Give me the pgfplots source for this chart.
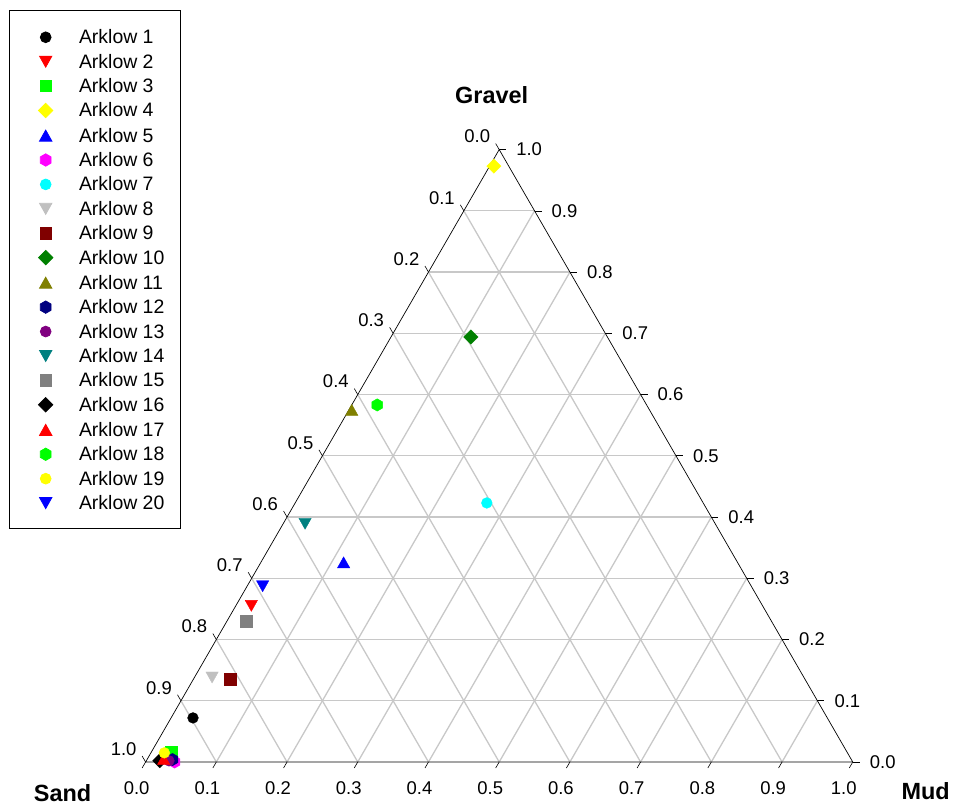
\documentclass[border=0pt]{standalone}
\usepackage{pgfplots}
\pgfplotsset{compat=1.18}
\usepackage{fontspec}
\setmainfont{Liberation Sans}
\definecolor{cBlack}{RGB}{0,0,0}
\definecolor{cRed}{RGB}{255,0,0}
\definecolor{cLime}{RGB}{0,255,0}
\definecolor{cYellow}{RGB}{255,255,0}
\definecolor{cBlue}{RGB}{0,0,255}
\definecolor{cMagenta}{RGB}{255,0,255}
\definecolor{cCyan}{RGB}{0,255,255}
\definecolor{cSilver}{RGB}{192,192,192}
\definecolor{cMaroon}{RGB}{128,0,0}
\definecolor{cDGreen}{RGB}{0,128,0}
\definecolor{cOlive}{RGB}{128,128,0}
\definecolor{cNavy}{RGB}{0,0,128}
\definecolor{cPurple}{RGB}{128,0,128}
\definecolor{cTeal}{RGB}{0,128,128}
\definecolor{cGray}{RGB}{128,128,128}
\definecolor{gridc}{RGB}{200,200,200}
\pgfdeclareplotmark{tup}{%
  \pgfpathmoveto{\pgfqpoint{0pt}{0.92\pgfplotmarksize}}%
  \pgfpathlineto{\pgfqpoint{1.03\pgfplotmarksize}{-0.92\pgfplotmarksize}}%
  \pgfpathlineto{\pgfqpoint{-1.03\pgfplotmarksize}{-0.92\pgfplotmarksize}}%
  \pgfpathclose\pgfusepathqfillstroke}
\pgfdeclareplotmark{tdown}{%
  \pgfpathmoveto{\pgfqpoint{0pt}{-0.92\pgfplotmarksize}}%
  \pgfpathlineto{\pgfqpoint{1.03\pgfplotmarksize}{0.92\pgfplotmarksize}}%
  \pgfpathlineto{\pgfqpoint{-1.03\pgfplotmarksize}{0.92\pgfplotmarksize}}%
  \pgfpathclose\pgfusepathqfillstroke}
\pgfdeclareplotmark{dia}{%
  \pgfpathmoveto{\pgfqpoint{0pt}{\pgfplotmarksize}}%
  \pgfpathlineto{\pgfqpoint{\pgfplotmarksize}{0pt}}%
  \pgfpathlineto{\pgfqpoint{0pt}{-\pgfplotmarksize}}%
  \pgfpathlineto{\pgfqpoint{-\pgfplotmarksize}{0pt}}%
  \pgfpathclose\pgfusepathqfillstroke}
\pgfdeclareplotmark{hex}{%
  \pgfpathmoveto{\pgfqpointpolar{90}{\pgfplotmarksize}}%
  \pgfpathlineto{\pgfqpointpolar{150}{\pgfplotmarksize}}%
  \pgfpathlineto{\pgfqpointpolar{210}{\pgfplotmarksize}}%
  \pgfpathlineto{\pgfqpointpolar{270}{\pgfplotmarksize}}%
  \pgfpathlineto{\pgfqpointpolar{330}{\pgfplotmarksize}}%
  \pgfpathlineto{\pgfqpointpolar{30}{\pgfplotmarksize}}%
  \pgfpathclose\pgfusepathqfillstroke}
\pgfplotsset{
  /pgfplots/table/tern/.style={row sep=\\,
    x expr={\thisrow{mud}+0.5*\thisrow{gravel}},
    y expr={0.8660254*\thisrow{gravel}}},
  pt/.style={only marks,
    legend image code/.code={\path (-20pt,0pt) (12pt,0pt);
      \draw[mark repeat=2,mark phase=2,##1] plot coordinates {(-1pt,-1pt) (0pt,-1pt) (1pt,-1pt)};}},
  mC/.style={pt, mark=*, mark size=5.4pt},
  mD/.style={pt, mark=tdown, mark size=6pt},
  mS/.style={pt, mark=square*, mark size=5.8pt},
  mK/.style={pt, mark=dia, mark size=7.2pt},
  mU/.style={pt, mark=tup, mark size=6pt},
  mH/.style={pt, mark=hex, mark size=6.2pt},
}
\newcommand{\tl}{\fontsize{18.5}{21}\selectfont}
\newcommand{\ttl}{\bfseries\fontsize{23.5}{27}\selectfont}
\begin{document}
\begin{tikzpicture}
\begin{axis}[
  width=953pt, height=806pt, scale only axis,
  xmin=-0.20592, xmax=1.13823, ymin=-0.05924, ymax=1.07757,
  hide axis, clip=false,
  legend cell align=left,
  legend style={at={(axis cs:-0.1932,1.0635)}, anchor=north west,
    draw=black, fill=white, line width=0.8pt,
    inner xsep=16pt, inner ysep=18.5pt, row sep=9.47pt, column sep=21pt,
    font=\fontsize{19.5}{23}\selectfont,
    nodes={inner sep=0pt, text height=15pt, text depth=0pt}},
  legend entries={Arklow 1,Arklow 2,Arklow 3,Arklow 4,Arklow 5,Arklow 6,Arklow 7,Arklow 8,Arklow 9,Arklow 10,Arklow 11,Arklow 12,Arklow 13,Arklow 14,Arklow 15,Arklow 16,Arklow 17,Arklow 18,Arklow 19,Arklow 20},
]
\path (rel axis cs:0,0) rectangle (rel axis cs:1,1);
% grid
\pgfplotsinvokeforeach{1,...,9}{
  \draw[gridc, line width=1.3pt] ({#1/20},{0.8660254*#1/10}) -- ({1-#1/20},{0.8660254*#1/10});
  \draw[gridc, line width=1.3pt] ({#1/10},0) -- ({#1/10+(1-#1/10)/2},{0.8660254*(1-#1/10)});
  \draw[gridc, line width=1.3pt] ({#1/10},0) -- ({#1/20},{0.8660254*#1/10});
}
% triangle
\draw[black, line width=0.7pt] (0,0) -- (1,0) -- (0.5,0.8660254) -- cycle;
% ticks
\pgfplotsinvokeforeach{0,...,10}{
  \draw[black, line width=0.6pt] ({#1/10},0) -- ++(-3.5pt,-6pt);
  \draw[black, line width=0.6pt] ({1-#1/20},{0.8660254*#1/10}) -- ++(7pt,0pt);
  \draw[black, line width=0.6pt] ({0.5*(1-#1/10)},{0.8660254*(1-#1/10)}) -- ++(-3.5pt,6pt);
}
% tick labels
\pgfplotsinvokeforeach{1,...,9}{
  \node[font=\tl] at ({#1/10},0) [xshift=-9pt, yshift=-26pt] {0.#1};
  \node[font=\tl] at ({1-#1/20},{0.8660254*#1/10}) [xshift=30pt] {0.#1};
  \node[font=\tl] at ({0.5*(1-#1/10)},{0.8660254*(1-#1/10)}) [xshift=-22pt, yshift=13pt] {0.#1};
}
\node[font=\tl] at (0,0) [xshift=-9pt, yshift=-26pt] {0.0};
\node[font=\tl] at (1,0) [xshift=-9pt, yshift=-26pt] {1.0};
\node[font=\tl] at (1,0) [xshift=30pt] {0.0};
\node[font=\tl] at (0.5,0.8660254) [xshift=30pt] {1.0};
\node[font=\tl] at (0.5,0.8660254) [xshift=-22pt, yshift=13pt] {0.0};
\node[font=\tl] at (0,0) [xshift=-22pt, yshift=13pt] {1.0};
% titles
\node[font=\ttl] at (0.4894,0.9436) {Gravel};
\node[font=\ttl] at (-0.1174,-0.0437) {Sand};
\node[font=\ttl] at (1.103,-0.0409) {Mud};
% data: sand, gravel, mud fractions
\addplot[mC, color=cBlack]   table[tern]{sand gravel mud\\ 0.897 0.072 0.031\\};
\addplot[mD, color=cRed]     table[tern]{sand gravel mud\\ 0.723 0.255 0.022\\};
\addplot[mS, color=cLime]    table[tern]{sand gravel mud\\ 0.955 0.017 0.028\\};
\addplot[mK, color=cYellow]  table[tern]{sand gravel mud\\ 0.021 0.973 0.006\\};
\addplot[mU, color=cBlue]    table[tern]{sand gravel mud\\ 0.557 0.326 0.117\\};
\addplot[mH, color=cMagenta] table[tern]{sand gravel mud\\ 0.959 0.000 0.041\\};
\addplot[mC, color=cCyan]    table[tern]{sand gravel mud\\ 0.306 0.423 0.271\\};
\addplot[mD, color=cSilver]  table[tern]{sand gravel mud\\ 0.837 0.138 0.025\\};
\addplot[mS, color=cMaroon]  table[tern]{sand gravel mud\\ 0.813 0.135 0.052\\};
\addplot[mK, color=cDGreen]  table[tern]{sand gravel mud\\ 0.193 0.694 0.113\\};
\addplot[mU, color=cOlive]   table[tern]{sand gravel mud\\ 0.421 0.575 0.004\\};
\addplot[mH, color=cNavy]    table[tern]{sand gravel mud\\ 0.960 0.004 0.036\\};
\addplot[mC, color=cPurple]  table[tern]{sand gravel mud\\ 0.966 0.002 0.032\\};
\addplot[mD, color=cTeal]    table[tern]{sand gravel mud\\ 0.580 0.389 0.031\\};
\addplot[mS, color=cGray]    table[tern]{sand gravel mud\\ 0.743 0.230 0.027\\};
\addplot[mK, color=cBlack]   table[tern]{sand gravel mud\\ 0.979 0.002 0.019\\};
\addplot[mU, color=cRed]     table[tern]{sand gravel mud\\ 0.972 0.005 0.023\\};
\addplot[mH, color=cLime]    table[tern]{sand gravel mud\\ 0.381 0.583 0.036\\};
\addplot[mC, color=cYellow]  table[tern]{sand gravel mud\\ 0.966 0.015 0.019\\};
\addplot[mD, color=cBlue]    table[tern]{sand gravel mud\\ 0.691 0.287 0.022\\};
\end{axis}
\end{tikzpicture}
\end{document}
